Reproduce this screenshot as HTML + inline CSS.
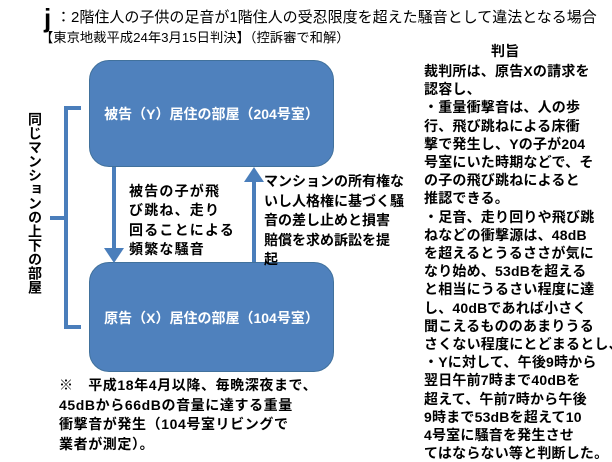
<!DOCTYPE html>
<html><head><meta charset="utf-8"><style>
body{margin:0;width:612px;height:459px;background:#fff;position:relative;overflow:hidden;font-family:"Liberation Sans","Noto Sans CJK JP",sans-serif;color:#000}
.a{position:absolute;white-space:nowrap;font-weight:bold}
.box{position:absolute;left:89px;width:245px;background:#4f81bd;border:1.5px solid #41719c;border-radius:20px;color:#fff;font-weight:bold;font-size:14px;text-align:center;box-sizing:border-box}
.r{position:absolute;left:424px;font-size:14px;font-weight:bold;letter-spacing:0.2px;white-space:nowrap}
.m{font-size:14px;letter-spacing:0.6px}
</style></head><body>
<div class="a" style="left:44px;top:3px;font-size:26px;line-height:30px">j</div>
<div class="a" style="left:56px;top:8px;font-size:15px;font-weight:normal;line-height:20px">：2階住人の子供の足音が1階住人の受忍限度を超えた騒音として違法となる場合</div>
<div class="a" style="left:40px;top:29px;font-size:13.3px;line-height:18px;font-weight:normal">【東京地裁平成24年3月15日判決】（控訴審で和解）</div>

<div class="box" style="top:60px;height:107px;line-height:107px">被告（Y）居住の部屋（204号室）</div>
<div class="box" style="top:262px;height:110px;line-height:110px">原告（X）居住の部屋（104号室）</div>

<svg style="position:absolute;left:0;top:0" width="612" height="459">
<path d="M81 108 H66 V327 H81 M66 218 H50" fill="none" stroke="#4a7ebb" stroke-width="4"/>
<line x1="114" y1="167" x2="114" y2="250" stroke="#4a7ebb" stroke-width="4"/>
<polygon points="104,248 124,248 114,263" fill="#4a7ebb"/>
<line x1="254" y1="262" x2="254" y2="180" stroke="#4a7ebb" stroke-width="4"/>
<polygon points="244,182 264,182 254,167" fill="#4a7ebb"/>
</svg>

<div class="a" style="left:26px;top:112px;width:16px;font-size:14px;line-height:15.2px;white-space:normal;writing-mode:vertical-rl">同じマンションの上下の部屋</div>

<div class="a m" style="left:129px;top:182px;line-height:19.3px;letter-spacing:1.2px">被告の子が飛<br>び跳ね、走り<br>回ることによる<br>頻繁な騒音</div>
<div class="a m" style="left:264px;top:172px;line-height:19.5px;letter-spacing:0">マンションの所有権な<br>いし人格権に基づく騒<br>音の差し止めと損害<br>賠償を求め訴訟を提<br>起</div>

<div class="a m" style="left:59px;top:376px;line-height:19.5px">※　平成18年4月以降、毎晩深夜まで、<br>45dBから66dBの音量に達する重量<br>衝撃音が発生（104号室リビングで<br>業者が測定）。</div>

<div class="r" style="left:491px;top:41px">判旨</div>
<div class="r" style="top:62px;line-height:18.2px">裁判所は、原告Xの請求を<br>認容し、<br>・重量衝撃音は、人の歩<br>行、飛び跳ねによる床衝<br>撃で発生し、Yの子が204<br>号室にいた時期などで、そ<br>の子の飛び跳ねによると<br>推認できる。<br>・足音、走り回りや飛び跳<br>ねなどの衝撃源は、48dB<br>を超えるとうるささが気に<br>なり始め、53dBを超える<br>と相当にうるさい程度に達<br>し、40dBであれば小さく<br>聞こえるもののあまりうる<br>さくない程度にとどまるとし、<br>・Yに対して、午後9時から<br>翌日午前7時まで40dBを<br>超えて、午前7時から午後<br>9時まで53dBを超えて10<br>4号室に騒音を発生させ<br>てはならない等と判断した。</div>
</body></html>
